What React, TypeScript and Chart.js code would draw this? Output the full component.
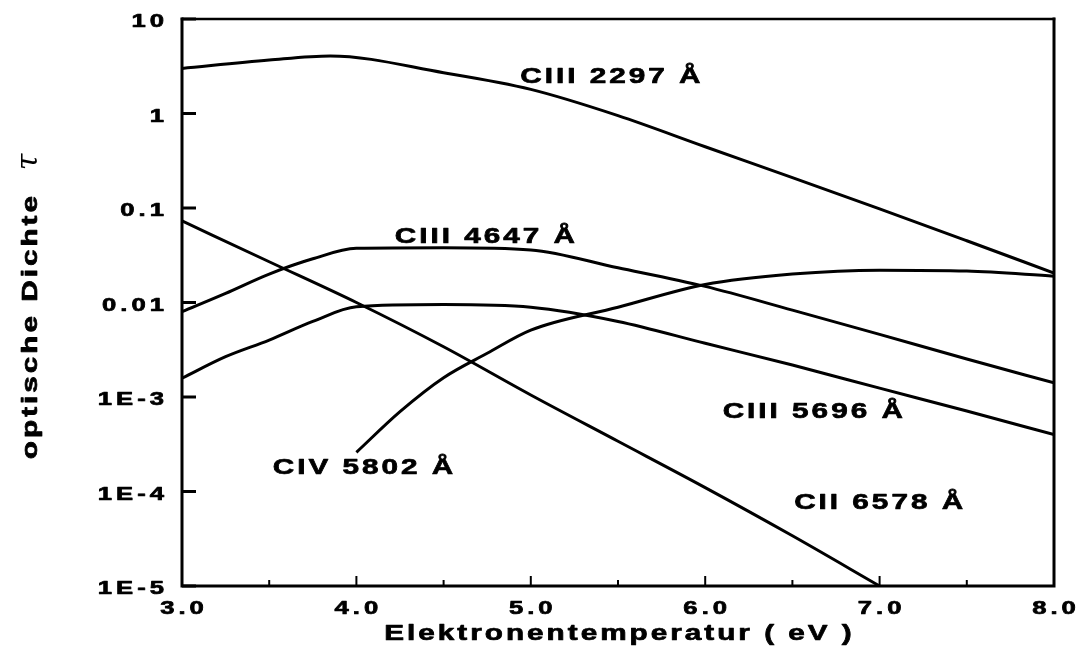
import React, { useEffect, useRef } from 'react';
import { Chart, registerables } from 'chart.js';

Chart.register(...registerables);

const WIDTH = 1081;
const HEIGHT = 646;

// Electron temperature (eV) and optical depth tau for each carbon line
const tempCIII2297 = [3.0, 3.5, 3.85, 4.5, 5.0, 5.5, 6.0, 6.5, 7.0, 7.5, 8.0];
const tauCIII2297 = [3.0, 3.68, 4.06, 2.7, 1.8, 0.95, 0.445, 0.21, 0.098, 0.045, 0.0205];

const tempCIII4647 = [3.0, 3.25, 3.5, 3.75, 4.0, 4.5, 5.0, 5.5, 6.0, 6.5, 7.0, 7.5, 8.0];
const tauCIII4647 = [0.008, 0.0125, 0.02, 0.029, 0.0374, 0.038, 0.036, 0.0233, 0.0148, 0.0083, 0.0046, 0.00252, 0.00141];

const tempCIII5696 = [3.0, 3.25, 3.5, 3.75, 4.0, 4.5, 5.0, 5.5, 6.0, 6.5, 7.0, 7.5, 8.0];
const tauCIII5696 = [0.00158, 0.00267, 0.004, 0.0063, 0.009, 0.0095, 0.0089, 0.0063, 0.0037, 0.00218, 0.00124, 0.00071, 0.0004];

const tempCII6578 = [3.0, 3.5, 4.0, 4.5, 5.0, 5.5, 6.0, 6.5, 7.0];
const tauCII6578 = [0.073, 0.027, 0.01, 0.0034, 0.00105, 0.00034, 0.00011, 0.000034, 0.00001];

const tempCIV5802 = [4.0, 4.25, 4.5, 4.75, 5.0, 5.5, 6.0, 6.5, 7.0, 7.5, 8.0];
const tauCIV5802 = [0.00026, 0.0007, 0.0016, 0.0029, 0.0051, 0.0089, 0.0155, 0.02, 0.022, 0.0215, 0.019];

// Axis ticks
const xTickLabels = ['3.0', '4.0', '5.0', '6.0', '7.0', '8.0'];
const yTickValues = [1e-5, 1e-4, 1e-3, 0.01, 0.1, 1, 10];
const yTickLabels = ['1E-5', '1E-4', '1E-3', '0.01', '0.1', '1', '10'];

// Curve labels, anchored in data coordinates (left edge, baseline)
const curveLabels = ['CIII 2297 Å', 'CIII 4647 Å', 'CIII 5696 Å', 'CIV 5802 Å', 'CII 6578 Å'];
const curveLabelTemp = [4.94, 4.22, 6.1, 3.52, 6.51];
const curveLabelTau = [2.09, 0.0427, 0.0006, 0.000153, 0.000065];

const xTitle = 'Elektronentemperatur ( eV )';
const yTitle = 'optische Dichte';
const yTitleSymbol = 'τ';

const STRETCH = 1.35;

// Bold, horizontally stretched and letter-spaced text
function drawWide(
  ctx: CanvasRenderingContext2D,
  text: string,
  x: number,
  y: number,
  size: number,
  spacing: number,
  align: 'left' | 'center' | 'right'
) {
  ctx.save();
  ctx.font = `bold ${size}px "Liberation Sans", Arial, sans-serif`;
  (ctx as any).letterSpacing = '0px';
  const n = Array.from(text).length;
  const w0 = ctx.measureText(text).width;
  const visible = w0 * STRETCH + spacing * (n - 1);
  let left = x;
  if (align === 'center') left = x - visible / 2;
  else if (align === 'right') left = x - visible;
  ctx.translate(left, y);
  ctx.scale(STRETCH, 1);
  (ctx as any).letterSpacing = `${spacing / STRETCH}px`;
  ctx.textAlign = 'left';
  ctx.textBaseline = 'alphabetic';
  ctx.fillStyle = '#000';
  ctx.strokeStyle = '#000';
  ctx.lineWidth = 0.7;
  ctx.lineJoin = 'round';
  ctx.fillText(text, 0, 0);
  ctx.strokeText(text, 0, 0);
  ctx.restore();
}

const framePlugin = {
  id: 'frameAndText',
  afterDraw(chart: any) {
    const { ctx, chartArea, scales } = chart;
    const { left, right, top, bottom } = chartArea;
    const xs = scales.x;
    const ys = scales.y;

    ctx.save();
    ctx.strokeStyle = '#000';
    ctx.lineCap = 'square';

    // frame
    ctx.lineWidth = 3;
    ctx.beginPath();
    ctx.moveTo(left, top);
    ctx.lineTo(left, bottom);
    ctx.lineTo(right, bottom);
    ctx.lineTo(right, top);
    ctx.stroke();
    ctx.lineWidth = 2.5;
    ctx.beginPath();
    ctx.moveTo(left, top);
    ctx.lineTo(right, top);
    ctx.stroke();

    // inward tick marks
    ctx.lineWidth = 3;
    ctx.lineCap = 'butt';
    ys.ticks.forEach((t: any) => {
      const y = ys.getPixelForValue(t.value);
      ctx.beginPath();
      ctx.moveTo(left, y);
      ctx.lineTo(left + 14, y);
      ctx.stroke();
    });
    ctx.lineWidth = 2;
    xs.ticks.forEach((t: any) => {
      const x = xs.getPixelForValue(t.value);
      const major = Number.isInteger(t.value);
      ctx.beginPath();
      ctx.moveTo(x, bottom);
      ctx.lineTo(x, bottom - (major ? 10 : 6));
      ctx.stroke();
    });
    ctx.restore();

    // tick labels
    ys.ticks.forEach((t: any, i: number) => {
      const label = t.label ?? yTickLabels[i];
      if (!label) return;
      const y = ys.getPixelForValue(t.value);
      drawWide(ctx, String(label), left - 18, y + 8, 19, 4, 'right');
    });
    xs.ticks.forEach((t: any) => {
      const label = t.label;
      if (!label) return;
      const x = xs.getPixelForValue(t.value);
      drawWide(ctx, String(label), x, bottom + 28, 19, 4, 'center');
    });

    // axis titles
    drawWide(ctx, xTitle, (left + right) / 2, bottom + 54, 22, 3, 'center');

    ctx.save();
    ctx.translate(37, 0);
    ctx.rotate(-Math.PI / 2);
    drawWide(ctx, yTitle, -196, 0, 22, 3, 'right');
    ctx.font = 'italic 30px "DejaVu Serif", serif';
    ctx.textAlign = 'center';
    ctx.textBaseline = 'alphabetic';
    ctx.fillStyle = '#000';
    ctx.fillText(yTitleSymbol, -162, 0);
    ctx.restore();

    // curve labels
    curveLabels.forEach((text, i) => {
      const x = xs.getPixelForValue(curveLabelTemp[i]);
      const y = ys.getPixelForValue(curveLabelTau[i]);
      drawWide(ctx, text, x, y, 22, 3, 'left');
    });
  },
};

function series(label: string, temps: number[], taus: number[]) {
  return {
    label,
    data: temps.map((t, i) => ({ x: t, y: taus[i] })),
    borderColor: '#000',
    borderWidth: 3,
    pointRadius: 0,
    fill: false,
    cubicInterpolationMode: 'monotone' as const,
  };
}

export default function App() {
  const canvasRef = useRef<HTMLCanvasElement | null>(null);

  useEffect(() => {
    if (!canvasRef.current) return;
    const chart = new Chart(canvasRef.current, {
      type: 'line',
      data: {
        datasets: [
          series('CIII 2297 Å', tempCIII2297, tauCIII2297),
          series('CIII 4647 Å', tempCIII4647, tauCIII4647),
          series('CIII 5696 Å', tempCIII5696, tauCIII5696),
          series('CII 6578 Å', tempCII6578, tauCII6578),
          series('CIV 5802 Å', tempCIV5802, tauCIV5802),
        ],
      },
      options: {
        responsive: false,
        animation: false,
        devicePixelRatio: 1,
        layout: { padding: { left: 0, top: 19, right: 27, bottom: 0 } },
        plugins: {
          legend: { display: false },
          tooltip: { enabled: false },
        },
        scales: {
          x: {
            type: 'linear',
            min: 3,
            max: 8,
            ticks: {
              display: false,
              stepSize: 0.5,
              callback: (v: any) => (Number.isInteger(v) ? xTickLabels[v - 3] : ''),
            },
            grid: { display: false },
            border: { display: false },
            afterFit: (s: any) => {
              s.height = 60;
            },
          },
          y: {
            type: 'logarithmic',
            min: 1e-5,
            max: 10,
            afterBuildTicks: (s: any) => {
              s.ticks = yTickValues.map((v) => ({ value: v }));
            },
            ticks: {
              display: false,
              callback: (v: any) => {
                const i = yTickValues.findIndex((t) => Math.abs(Math.log10(t) - Math.log10(v)) < 1e-6);
                return i >= 0 ? yTickLabels[i] : '';
              },
            },
            grid: { display: false },
            border: { display: false },
            afterFit: (s: any) => {
              s.width = 182;
            },
          },
        },
      } as any,
      plugins: [framePlugin],
    });
    return () => chart.destroy();
  }, []);

  return (
    <div
      style={{
        position: 'absolute',
        left: 0,
        top: 0,
        width: WIDTH,
        height: HEIGHT,
        background: '#fff',
      }}
    >
      <canvas ref={canvasRef} width={WIDTH} height={HEIGHT} style={{ display: 'block' }} />
    </div>
  );
}
